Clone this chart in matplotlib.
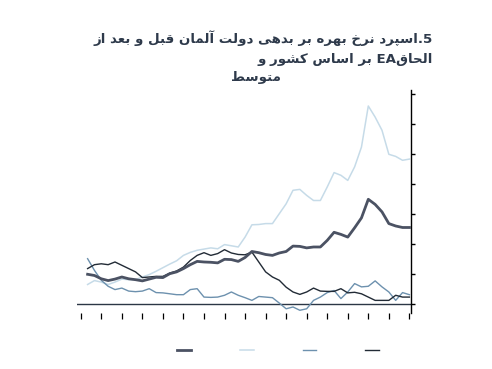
"""
Spread chart (Persian title) - German bond spread before/after EA accession
"""

import numpy as np
import matplotlib
matplotlib.use("Agg")
import matplotlib.pyplot as plt

# ── Data (tick units) ─────────────────────────────────────────────
years = 2000 + 1 / 3 + np.arange(48) / 3

average = [0.98, 0.94, 0.83, 0.77, 0.82, 0.89, 0.83, 0.80, 0.76, 0.82,
           0.88, 0.87, 1.00, 1.06, 1.17, 1.30, 1.41, 1.39, 1.38, 1.36,
           1.48, 1.47, 1.41, 1.54, 1.74, 1.70, 1.64, 1.61, 1.69, 1.74,
           1.92, 1.91, 1.86, 1.89, 1.89, 2.11, 2.38, 2.31, 2.22, 2.53,
           2.86, 3.48, 3.31, 3.06, 2.67, 2.59, 2.54, 2.54]

light = [0.64, 0.77, 0.72, 0.64, 0.72, 0.82, 0.80, 0.80, 0.89, 0.97,
         1.08, 1.20, 1.32, 1.43, 1.61, 1.71, 1.78, 1.82, 1.86, 1.83,
         1.97, 1.93, 1.89, 2.22, 2.63, 2.64, 2.67, 2.67, 3.00, 3.33,
         3.78, 3.81, 3.61, 3.44, 3.44, 3.89, 4.37, 4.28, 4.11, 4.56,
         5.22, 6.59, 6.22, 5.78, 4.98, 4.91, 4.78, 4.82]

medium = [1.50, 1.11, 0.78, 0.58, 0.47, 0.52, 0.42, 0.40, 0.42, 0.50,
          0.37, 0.36, 0.33, 0.30, 0.30, 0.47, 0.50, 0.22, 0.21, 0.22,
          0.28, 0.39, 0.28, 0.20, 0.11, 0.24, 0.22, 0.20, 0.02, -0.17,
          -0.11, -0.22, -0.17, 0.11, 0.22, 0.37, 0.44, 0.17, 0.39, 0.67,
          0.56, 0.58, 0.76, 0.56, 0.39, 0.11, 0.37, 0.30]

dark = [1.17, 1.30, 1.33, 1.30, 1.39, 1.28, 1.17, 1.06, 0.87, 0.89,
        0.91, 0.91, 1.02, 1.09, 1.22, 1.44, 1.61, 1.70, 1.61, 1.67,
        1.80, 1.69, 1.64, 1.63, 1.72, 1.39, 1.06, 0.89, 0.78, 0.55,
        0.39, 0.31, 0.39, 0.52, 0.42, 0.41, 0.41, 0.50, 0.36, 0.38,
        0.33, 0.22, 0.11, 0.11, 0.11, 0.28, 0.22, 0.22]

x_ticks = list(range(2000, 2017))
y_ticks = list(range(0, 8))

TITLE_1 = "5.اسپرد نرخ بهره بر بدهی دولت آلمان قبل و بعد از"
TITLE_2 = "الحاقEA بر اساس کشور و"
TITLE_3 = "متوسط"

COL_AVG    = "#4b5263"
COL_LIGHT  = "#c6dbe8"
COL_MEDIUM = "#6d91ae"
COL_DARK   = "#222b36"
COL_TITLE  = "#2e3a4b"


# ── Minimal Persian shaping (matplotlib has no complex text layout) ──
# letter: (isolated, final, initial, medial); None where not available
FORMS = {
    "ا": (0xFE8D, 0xFE8E, None, None), "آ": (0xFE81, 0xFE82, None, None),
    "ب": (0xFE8F, 0xFE90, 0xFE91, 0xFE92), "پ": (0xFB56, 0xFB57, 0xFB58, 0xFB59),
    "ت": (0xFE95, 0xFE96, 0xFE97, 0xFE98), "ح": (0xFEA1, 0xFEA2, 0xFEA3, 0xFEA4),
    "خ": (0xFEA5, 0xFEA6, 0xFEA7, 0xFEA8), "د": (0xFEA9, 0xFEAA, None, None),
    "ر": (0xFEAD, 0xFEAE, None, None), "ز": (0xFEAF, 0xFEB0, None, None),
    "س": (0xFEB1, 0xFEB2, 0xFEB3, 0xFEB4), "ش": (0xFEB5, 0xFEB6, 0xFEB7, 0xFEB8),
    "ط": (0xFEC1, 0xFEC2, 0xFEC3, 0xFEC4), "ع": (0xFEC9, 0xFECA, 0xFECB, 0xFECC),
    "ق": (0xFED5, 0xFED6, 0xFED7, 0xFED8), "ک": (0xFB8E, 0xFB8F, 0xFB90, 0xFB91),
    "ل": (0xFEDD, 0xFEDE, 0xFEDF, 0xFEE0), "م": (0xFEE1, 0xFEE2, 0xFEE3, 0xFEE4),
    "ن": (0xFEE5, 0xFEE6, 0xFEE7, 0xFEE8), "و": (0xFEED, 0xFEEE, None, None),
    "ه": (0xFEE9, 0xFEEA, 0xFEEB, 0xFEEC), "ی": (0xFBFC, 0xFBFD, 0xFBFE, 0xFBFF),
}


def shape_word(word):
    out = []
    for i, ch in enumerate(word):
        if ch not in FORMS:
            out.append(ch)
            continue
        prev = word[i - 1] if i > 0 else ""
        nxt = word[i + 1] if i + 1 < len(word) else ""
        f = FORMS[ch]
        join_prev = prev in FORMS and FORMS[prev][2] is not None
        join_next = nxt in FORMS and f[2] is not None
        if join_prev and join_next:
            code = f[3]
        elif join_prev:
            code = f[1]
        elif join_next:
            code = f[2]
        else:
            code = f[0]
        out.append(chr(code))
    return "".join(out)


def char_kind(ch):
    if ch in FORMS:
        return "fa"
    if ch.isalnum():
        return "lat"
    return "punct"


def visual_word(word):
    # runs of persian / latin, punctuation on its own; RTL order
    runs = []
    for ch in word:
        k = char_kind(ch)
        if runs and runs[-1][1] == k and k != "punct":
            runs[-1][0] += ch
        else:
            runs.append([ch, k])
    pieces = []
    for text, k in runs:
        pieces.append(shape_word(text)[::-1] if k == "fa" else text)
    return "".join(pieces[::-1])


def visual(line):
    return " ".join(visual_word(w) for w in line.split(" ")[::-1])


# ── Figure ────────────────────────────────────────────────────────
fig = plt.figure(figsize=(4.92, 3.69), dpi=100)
ax = fig.add_axes([0.156, 0.151, 0.679, 0.604])

ax.plot(years, light, color=COL_LIGHT, lw=1.1, label=" ")
ax.plot(years, medium, color=COL_MEDIUM, lw=1.0, label=" ")
ax.plot(years, dark, color=COL_DARK, lw=1.0, label=" ")
ax.plot(years, average, color=COL_AVG, lw=2.0, label=" ")
ax.axhline(0, color="#2b3645", lw=1.0, zorder=1)

ax.set_xlim(1999.805, 2016.07)
ax.set_ylim(-0.32, 7.11)
ax.set_xticks(x_ticks)
ax.set_yticks(y_ticks)
ax.set_xticklabels([])
ax.set_yticklabels([])
ax.yaxis.tick_right()
ax.tick_params(axis="y", direction="out", length=3, width=1.0,
               color="black", right=True, left=False)
ax.tick_params(axis="x", direction="out", length=4, width=0.9,
               color="black")
for side in ["left", "top", "bottom"]:
    ax.spines[side].set_visible(False)
ax.spines["right"].set_linewidth(1.0)
ax.spines["right"].set_color("black")

# legend swatches (labels are blank in the reference)
handles = [ax.lines[3], ax.lines[0], ax.lines[1], ax.lines[2]]
fig.legend(handles, [" "] * 4, loc="center", ncol=4,
           bbox_to_anchor=(0.574, 0.05), frameon=False,
           handlelength=1.0, columnspacing=2.9, handletextpad=0.3)

# title, drawn line by line (right aligned, last line centered)
title_kw = dict(fontsize=9.6, fontweight="bold", color=COL_TITLE,
                family=["DejaVu Sans"])
fig.text(0.880, 0.897, visual(TITLE_1), ha="right", va="center", **title_kw)
fig.text(0.880, 0.838, visual(TITLE_2), ha="right", va="center", **title_kw)
fig.text(0.521, 0.789, visual(TITLE_3), ha="center", va="center", **title_kw)

plt.savefig("out.png", dpi=100)
plt.close()
